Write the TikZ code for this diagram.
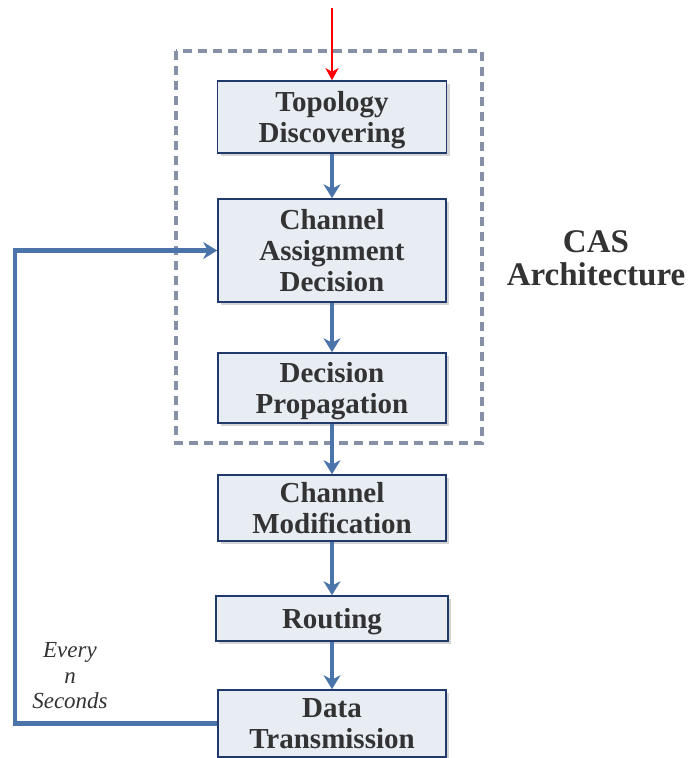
\documentclass[tikz,border=0pt]{standalone}
\usepackage{fontspec}
\setmainfont{Liberation Serif}
\usetikzlibrary{arrows.meta}
\definecolor{boxfill}{HTML}{E8EDF4}
\definecolor{boxdraw}{HTML}{1F3A6B}
\definecolor{flowc}{HTML}{4A74AA}
\definecolor{dashc}{HTML}{8691A8}
\definecolor{txt}{HTML}{333333}
\definecolor{shadowc}{HTML}{D4D4D4}
\tikzset{
  stepbox/.style={rectangle, draw=boxdraw, line width=1.6pt, fill=boxfill,
    text=txt, align=center, inner sep=0pt, text depth=0pt,
    font=\fontsize{29}{31}\selectfont\bfseries},
  flow/.style={draw=flowc, line width=4.4pt,
    -{Stealth[length=14pt,width=17pt,inset=4.5pt]}},
  inflow/.style={draw=red, line width=2.2pt,
    -{Stealth[length=12pt,width=13pt,inset=3.5pt]}},
  dashframe/.style={draw=dashc, line width=3.2pt, dash pattern=on 9pt off 6pt},
}
\begin{document}
\begin{tikzpicture}[x=1pt,y=1pt]
\useasboundingbox (0,0) rectangle (694,-758);
% dashed frame
\draw[dashframe] (176,-51) rectangle (482,-443);
% shadows
\foreach \cx/\cy/\w/\h in {332/-117/229/72, 332/-250.5/228/103, 332/-388/228/70, 332/-508/228/66, 332/-618.5/232/45, 332/-723.5/228/67}{
  \fill[shadowc] (\cx-\w/2+3,\cy-\h/2-3) rectangle (\cx+\w/2+3,\cy+\h/2-3);
}
\node[stepbox, minimum width=229pt, minimum height=72pt] (topo) at (332,-117) {Topology\\Discovering};
\node[stepbox, minimum width=228pt, minimum height=103pt] (cad) at (332,-250.5) {Channel\\Assignment\\Decision};
\node[stepbox, minimum width=228pt, minimum height=70pt] (dp) at (332,-388) {Decision\\Propagation};
\node[stepbox, minimum width=228pt, minimum height=66pt] (cm) at (332,-508) {Channel\\Modification};
\node[stepbox, minimum width=232pt, minimum height=45pt] (rt) at (332,-618.5) {Routing};
\node[stepbox, minimum width=228pt, minimum height=67pt] (dt) at (332,-723.5) {Data\\Transmission};
% connectors
\coordinate (in) at (332,-8);
\draw[inflow] (in) -- (topo.north);
\draw[flow] (topo) -- (cad);
\draw[flow] (cad) -- (dp);
\draw[flow] (dp) -- (cm);
\draw[flow] (cm) -- (rt);
\draw[flow] (rt) -- (dt);
\coordinate (fb) at (15,-723.5);
\draw[flow] (dt.west) -- (fb) |- (cad.west);
% labels
\node[text=txt, align=center, font=\fontsize{33}{33}\selectfont\bfseries] (cas) at (596,-258) {CAS\\Architecture};
\node[text=txt, align=center, font=\fontsize{23}{25.5}\selectfont\itshape] (every) at (70,-676) {Every\\n\\Seconds};
\end{tikzpicture}
\end{document}
